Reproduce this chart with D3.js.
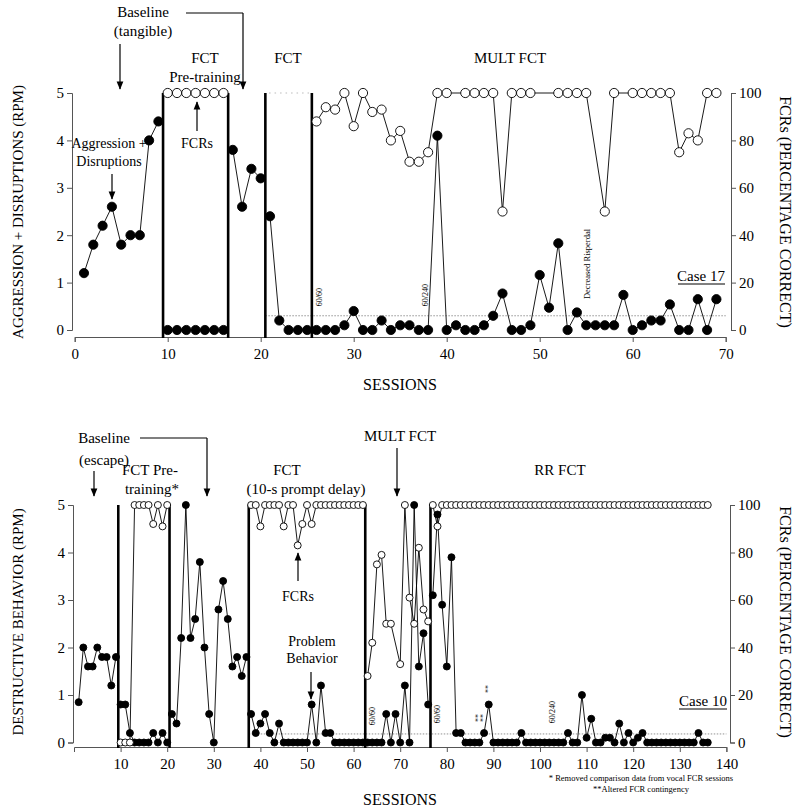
<!DOCTYPE html>
<html><head><meta charset="utf-8">
<script src="https://cdn.jsdelivr.net/npm/d3@7"></script>
<style>body{margin:0;background:#fff}svg{display:block}</style>
</head><body>
<svg id="c" width="800" height="812"></svg>
<script>
// ---------- DATA: Case 17 (top) ----------
const topSessions = d3.range(1, 70);
const topAggression = [1.2,1.8,2.2,2.6,1.8,2.0,2.0,4.0,4.4,
  0,0,0,0,0,0,0,
  3.8,2.6,3.4,3.2,
  2.4,0.2,0,0,0,
  0,0,0,0.1,0.4,0,0,0.2,0,0.1,0.1,0,0,4.1,0,0.1,0,0,0.1,0.3,0.77,0,0,0.1,1.16,0.47,1.83,0,0.37,0.1,0.1,0.1,0.1,0.74,0,0.1,0.2,0.2,0.54,0,0,0.65,0,0.65];
const topFcrSessions = [10,11,12,13,14,15,16,
  26,27,28,29,30,31,32,33,34,35,36,37,38,39,40,42,43,44,45,46,47,48,49,52,53,54,55,57,58,60,61,62,63,64,65,66,67,68,69];
const topFcr = [100,100,100,100,100,100,100,
  88,94,93,100,86,100,92,93,80,84,71,71,75,100,100,100,100,100,100,50,100,100,100,100,100,100,100,50,100,100,100,100,100,100,75,83,80,100,100];
const topPhaseLines = [9.5, 16.5, 20.5, 25.5];
const topCriterion = 0.3;

// ---------- DATA: Case 10 (bottom) ----------
const botSessions = d3.range(1, 137);
const botDestructive = [0.85,2.0,1.6,1.6,2.0,1.8,1.8,1.2,1.8,
  0.8,0.8,0.2,0,0,0,0,0.2,0,0.2,0,
  0.6,0.4,2.2,5.0,2.2,2.6,3.8,2.0,0.6,0,2.8,3.4,2.6,1.6,1.8,1.4,1.8,
  0.6,0.2,0.4,0.6,0.2,0,0.4,0,0,0,0,0,0,0.8,0,1.2,0.2,0.2,0,0,0,0,0,0,0,
  0,0,0,0,0.6,0,0.6,0,1.2,0,5.0,1.6,2.3,0.8,
  3.1,4.8,2.9,1.6,3.9,0.2,0.2,0,0,0,0,0.2,0.8,0,0,0,0,0,0,0.2,0,0,0,0,0,0,0,0,0,0.2,0,0,1.0,0.1,0.5,0,0,0.1,0.1,0,0.4,0,0.2,0,0.1,0.2,0,0,0,0,0,0,0,0,0,0,0,0.2,0,0];
const botFcrSessions = [10,11,12,13,14,15,16,17,18,19,20,
  38,39,40,41,42,43,44,45,46,47,48,49,50,51,52,53,54,55,56,57,58,59,60,61,62,
  63,64,65,66,67,68,70,71,72,73,74,75,76].concat(d3.range(77, 137));
const botFcr = [0,0,0,100,100,100,100,92,100,91,100,
  100,100,91,100,100,100,100,91,100,100,83,92,100,92,100,100,100,100,100,100,100,100,100,100,100,
  28,42,75,79,50,50,33,100,61,50,82,56,51].concat([100,91]).concat(d3.range(79,137).map(()=>100));
const botPhaseLines = [9.5, 20.5, 37.5, 62.5, 76.5];
const botCriterion = 0.18;

const topXTicks = [0,10,20,30,40,50,60,70];
const botXTicks = [10,20,30,40,50,60,70,80,90,100,110,120,130,140];
const leftTicks = [0,1,2,3,4,5];
const rightTicks = [0,20,40,60,80,100];

const FONT = "'Liberation Serif','Times New Roman',serif";
const svg = d3.select("#c");
svg.append("defs").append("marker").attr("id","ah").attr("viewBox","0 0 10 10")
  .attr("refX",9).attr("refY",5).attr("markerWidth",7).attr("markerHeight",7).attr("orient","auto-start-reverse")
  .append("path").attr("d","M0,1 L10,5 L0,9 Z").attr("fill","#000");

function text(x, y, s, size, anchor, rot) {
  const t = svg.append("text").attr("x", x).attr("y", y).text(s)
    .attr("font-family", FONT).attr("font-size", size).attr("text-anchor", anchor || "middle").attr("fill", "#000");
  if (rot) t.attr("transform", `rotate(${rot},${x},${y})`);
  return t;
}
function arrow(x1, y1, x2, y2) {
  svg.append("line").attr("x1",x1).attr("y1",y1).attr("x2",x2).attr("y2",y2)
    .attr("stroke","#000").attr("stroke-width",1.2).attr("marker-end","url(#ah)");
}
function line(x1, y1, x2, y2, w) {
  svg.append("line").attr("x1",x1).attr("y1",y1).attr("x2",x2).attr("y2",y2)
    .attr("stroke","#000").attr("stroke-width",w||1.2);
}

function panel(o) {
  const x = d3.scaleLinear().domain(o.xDomain).range(o.xRange);
  const yL = d3.scaleLinear().domain([0,5]).range([o.y0, o.y5]);
  const yR = d3.scaleLinear().domain([0,100]).range([o.y0, o.y5]);
  const g = svg.append("g");
  const styleAxis = sel => {
    sel.selectAll("path,line").attr("stroke","#555").attr("stroke-width",1);
    sel.selectAll("text").attr("font-family",FONT).attr("font-size",15).attr("fill","#000");
  };
  g.append("g").attr("transform",`translate(${o.leftX},0)`)
    .call(d3.axisLeft(yL).tickValues(leftTicks).tickFormat(d3.format("d")).tickSizeOuter(0).tickSize(5).tickPadding(3)).call(styleAxis);
  g.append("g").attr("transform",`translate(${o.rightX},0)`)
    .call(d3.axisRight(yR).tickValues(rightTicks).tickSizeOuter(0).tickSize(5).tickPadding(3)).call(styleAxis);
  g.append("g").attr("transform",`translate(0,${o.axisY})`)
    .call(d3.axisBottom(x).tickValues(o.xTicks).tickSizeOuter(0).tickSize(5).tickPadding(6)).call(styleAxis);

  // criterion dotted line
  g.append("line").attr("x1", x(o.critStart)).attr("x2", o.xRange[1]).attr("y1", yL(o.crit)).attr("y2", yL(o.crit))
    .attr("stroke","#777").attr("stroke-width",0.8).attr("stroke-dasharray","1.5,1.5");

  // phase lines
  o.phases.forEach(p => {
    g.append("line").attr("x1",x(p)).attr("x2",x(p)).attr("y1",o.y5).attr("y2",o.axisY+1)
      .attr("stroke","#000").attr("stroke-width",2.6);
  });

  const phaseOf = s => d3.bisectLeft(o.phases, s);
  const drawSeries = (sess, vals, yS, filled, r) => {
    const pts = sess.map((s,i) => ({s, v: vals[i], p: phaseOf(s)}));
    const groups = d3.groups(pts, d => d.p);
    const ln = d3.line().x(d => x(d.s)).y(d => yS(d.v));
    groups.forEach(([, arr]) => {
      g.append("path").attr("d", ln(arr)).attr("fill","none").attr("stroke","#000").attr("stroke-width",0.9);
    });
    g.selectAll(null).data(pts).enter().append("circle")
      .attr("cx", d => x(d.s)).attr("cy", d => yS(d.v)).attr("r", r)
      .attr("fill", filled ? "#000" : "#fff").attr("stroke","#000").attr("stroke-width", 0.9);
  };
  drawSeries(o.bSess, o.bVals, yL, true, o.r);
  drawSeries(o.oSess, o.oVals, yR, false, o.r);
  return {x, yL, yR};
}

// ---------- TOP PANEL ----------
const T = panel({xDomain:[0,70], xRange:[74.7,725.7], y0:330, y5:93, leftX:72, rightX:731, axisY:337,
  xTicks: topXTicks, phases: topPhaseLines, crit: topCriterion, critStart: 20.5,
  bSess: topSessions, bVals: topAggression, oSess: topFcrSessions, oVals: topFcr, r: 4.6});
svg.append("line").attr("x1",T.x(20.9)).attr("x2",T.x(25.2)).attr("y1",93).attr("y2",93)
  .attr("stroke","#aaa").attr("stroke-width",0.8).attr("stroke-dasharray","1.5,4");

text(20, 212, "AGGRESSION + DISRUPTIONS (RPM)", 15, "middle", -90).attr("dominant-baseline","middle");
text(784, 212, "FCRs (PERCENTAGE CORRECT)", 16, "middle", 90).attr("dominant-baseline","middle");
text(400, 390, "SESSIONS", 16);

text(143, 17, "Baseline", 15);
text(143, 36, "(tangible)", 15);
arrow(120, 44, 120, 89);
line(186, 13, 243, 13);
arrow(243, 13, 243, 89);
text(205, 63, "FCT", 15);
text(205, 82, "Pre-training", 15);
text(288, 63, "FCT", 15);
text(510, 63, "MULT FCT", 15);
text(109, 148, "Aggression +", 14);
text(109, 166, "Disruptions", 14);
arrow(112, 174, 112, 199);
text(197, 148, "FCRs", 14);
arrow(197, 131, 197, 102);
text(320, 297, "60/60", 8, "middle", -90).attr("dominant-baseline","middle");
text(426, 295, "60/240", 8, "middle", -90).attr("dominant-baseline","middle");
text(588, 264, "Decreased  Risperdal", 8.5, "middle", -90).attr("dominant-baseline","middle");
text(725, 281, "Case 17", 15, "end");
line(678, 284, 725, 284, 1);

// ---------- BOTTOM PANEL ----------
const B = panel({xDomain:[0,140], xRange:[74,726.4], y0:742.5, y5:505, leftX:73, rightX:730, axisY:747,
  xTicks: botXTicks, phases: botPhaseLines, crit: botCriterion, critStart: 37.5,
  bSess: botSessions, bVals: botDestructive, oSess: botFcrSessions, oVals: botFcr, r: 3.5});

text(20, 622, "DESTRUCTIVE BEHAVIOR (RPM)", 15, "middle", -90).attr("dominant-baseline","middle");
text(784, 622, "FCRs (PERCENTAGE CORRECT)", 16, "middle", 90).attr("dominant-baseline","middle");
text(400, 805, "SESSIONS", 16);

text(104, 443, "Baseline", 15);
text(104, 465, "(escape)", 15);
arrow(94, 471, 94, 496);
line(140, 438, 207, 438);
arrow(207, 438, 207, 496);
text(150, 475, "FCT Pre-", 15);
text(152, 494, "training*", 15);
text(287, 475, "FCT", 15);
text(306, 494, "(10-s prompt delay)", 15);
text(400, 441, "MULT FCT", 15);
arrow(397, 448, 397, 496);
text(560, 475, "RR FCT", 15);
text(298, 601, "FCRs", 14);
arrow(298, 581, 298, 553);
text(312, 646, "Problem", 14);
text(312, 663, "Behavior", 14);
arrow(311, 672, 311, 699);
text(373, 716, "60/60", 8, "middle", -90).attr("dominant-baseline","middle");
text(438, 714, "60/60", 8, "middle", -90).attr("dominant-baseline","middle");
text(553, 712, "60/240", 8, "middle", -90).attr("dominant-baseline","middle");
text(B.x(87), 718, "**", 8, "middle", -90).attr("dominant-baseline","middle");
text(B.x(88), 718, "**", 8, "middle", -90).attr("dominant-baseline","middle");
text(B.x(89), 689, "**", 8, "middle", -90).attr("dominant-baseline","middle");
text(727, 706, "Case 10", 15, "end");
line(679, 709, 727, 709, 1);
text(641, 781, "* Removed comparison data from vocal FCR sessions", 8.5);
text(641, 792, "**Altered FCR contingency", 8.5);
</script>
</body></html>
